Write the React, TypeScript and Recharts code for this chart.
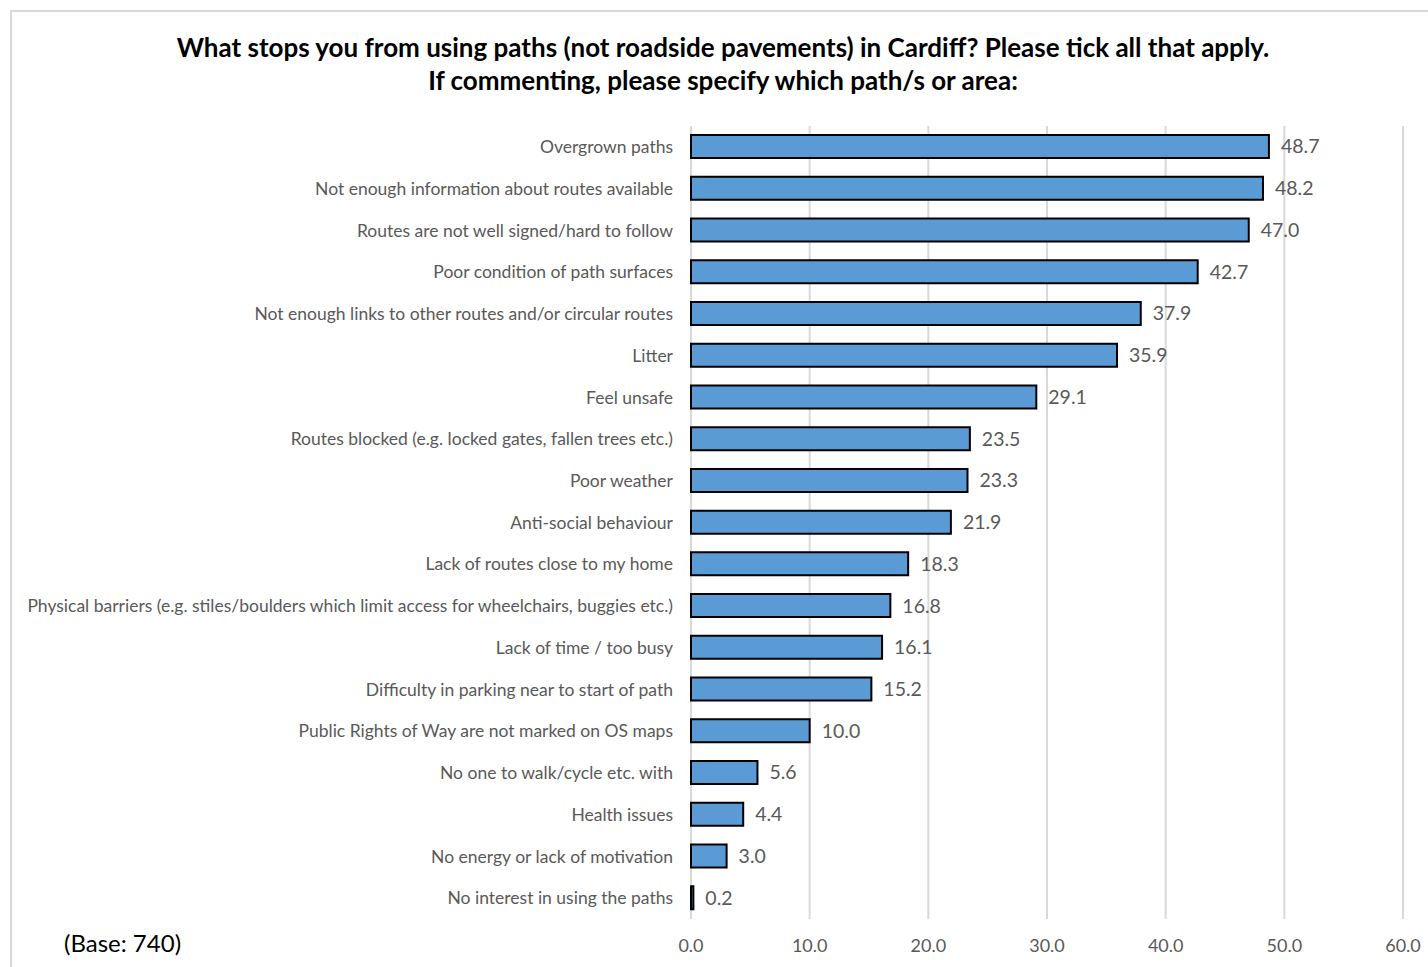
import { Bar, BarChart, CartesianGrid, LabelList, XAxis, YAxis } from "recharts";

const categories = [
  "Overgrown paths",
  "Not enough information about routes available",
  "Routes are not well signed/hard to follow",
  "Poor condition of path surfaces",
  "Not enough links to other routes and/or circular routes",
  "Litter",
  "Feel unsafe",
  "Routes blocked (e.g. locked gates, fallen trees etc.)",
  "Poor weather",
  "Anti-social behaviour",
  "Lack of routes close to my home",
  "Physical barriers (e.g. stiles/boulders which limit access for wheelchairs, buggies etc.)",
  "Lack of time / too busy",
  "Difficulty in parking near to start of path",
  "Public Rights of Way are not marked on OS maps",
  "No one to walk/cycle etc. with",
  "Health issues",
  "No energy or lack of motivation",
  "No interest in using the paths",
];

const percentages = [
  48.7, 48.2, 47.0, 42.7, 37.9, 35.9, 29.1, 23.5, 23.3, 21.9, 18.3, 16.8, 16.1,
  15.2, 10.0, 5.6, 4.4, 3.0, 0.2,
];

const xTicks = [0, 10, 20, 30, 40, 50, 60];

const data = categories.map((name, i) => ({ name, value: percentages[i] }));

const font = "Lato, 'Noto Sans', sans-serif";

export default function App() {
  return (
    <div
      style={{
        position: "absolute",
        left: 10,
        top: 10,
        width: 1426,
        height: 970,
        border: "2px solid #d9d9d9",
        boxSizing: "border-box",
        background: "#fff",
        fontFamily: font,
      }}
    >
      <div
        style={{
          position: "absolute",
          left: 0,
          top: 19,
          width: "100%",
          textAlign: "center",
          fontWeight: 700,
          fontSize: 26,
          lineHeight: "33px",
          color: "#000",
        }}
      >
        What stops you from using paths (not roadside pavements) in Cardiff? Please tick all that apply.
        <br />
        If commenting, please specify which path/s or area:
      </div>
      <div style={{ position: "absolute", left: 0, top: 0 }}>
        <BarChart
          width={1422}
          height={955}
          data={data}
          layout="vertical"
          margin={{ top: 114, right: 31, bottom: 0, left: 0 }}
          barCategoryGap={0}
        >
          <CartesianGrid horizontal={false} stroke="#d9d9d9" strokeWidth={2} />
          <XAxis
            type="number"
            domain={[0, 60]}
            ticks={xTicks}
            axisLine={false}
            tickLine={false}
            tickMargin={14}
            tickFormatter={(v: number) => v.toFixed(1)}
            tick={{ fill: "#595959", fontSize: 18, fontFamily: font }}
            height={48}
          />
          <YAxis
            type="category"
            dataKey="name"
            width={679}
            axisLine={false}
            tickLine={false}
            tickMargin={12}
            interval={0}
            tick={{ fill: "#595959", fontSize: 17.5, fontFamily: font }}
          />
          <Bar
            dataKey="value"
            fill="#5b9bd5"
            stroke="#000"
            strokeWidth={2}
            barSize={23}
            isAnimationActive={false}
          >
            <LabelList
              dataKey="value"
              position="right"
              offset={12}
              formatter={(v: number) => v.toFixed(1)}
              style={{ fill: "#595959", fontSize: 19.5, fontFamily: font }}
            />
          </Bar>
        </BarChart>
      </div>
      <div
        style={{
          position: "absolute",
          left: 52,
          top: 916,
          fontSize: 24,
          color: "#000",
        }}
      >
        (Base: 740)
      </div>
    </div>
  );
}
